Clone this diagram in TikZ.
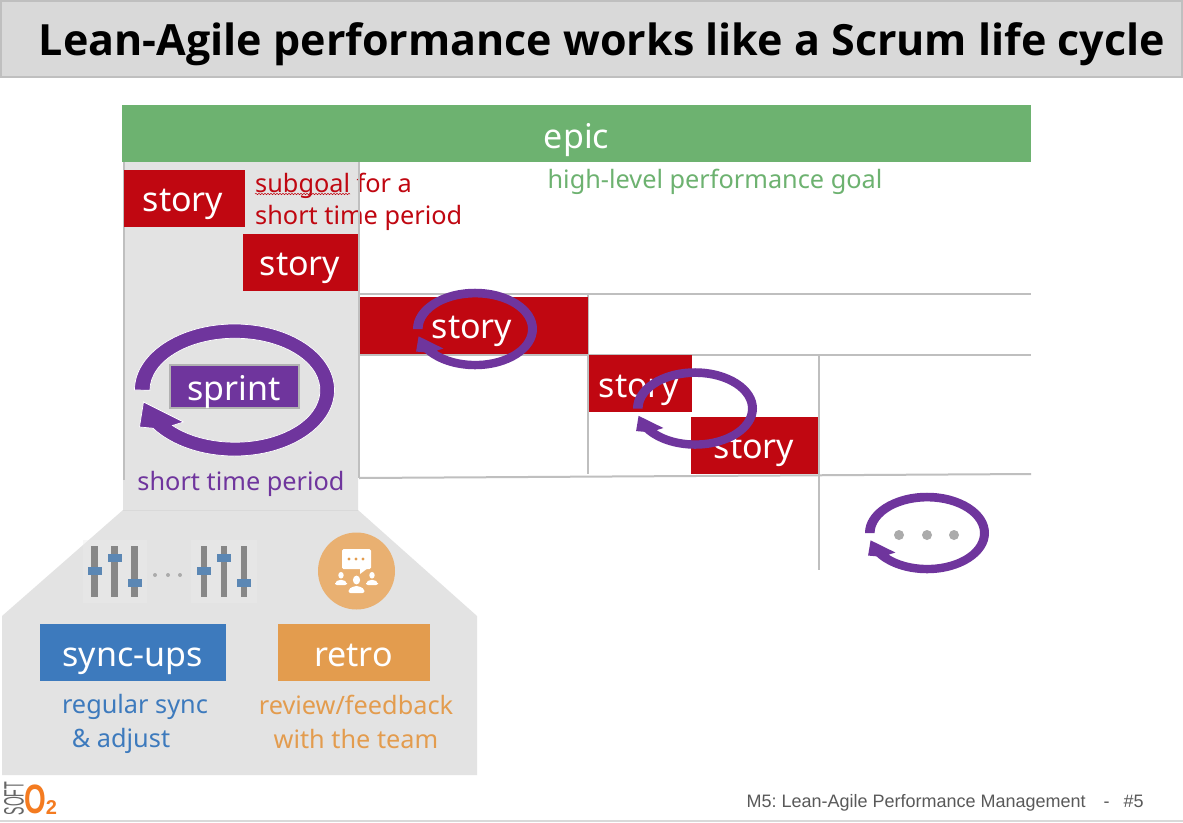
\documentclass[tikz,border=0pt]{standalone}
\usepackage{fontspec}
\usepackage{xcolor}
\usepackage{tikz}
\usetikzlibrary{decorations.pathmorphing}
\setmainfont{Noto Sans}
\newfontfamily\titlefont{Open Sans}
\newfontfamily\footerfont{Liberation Sans}

\definecolor{epicgreen}{HTML}{6DB270}
\definecolor{storyred}{HTML}{C00711}
\definecolor{sprintpurple}{HTML}{6F359D}
\definecolor{syncblue}{HTML}{3D7ABD}
\definecolor{retroorange}{HTML}{E39C4E}
\definecolor{panelgray}{HTML}{E3E3E3}
\definecolor{gridgray}{HTML}{BFBFBF}
\definecolor{handleblue}{HTML}{5B87B4}
\definecolor{logoorange}{HTML}{F47B20}

\tikzset{
    bar/.style={draw=none, minimum height=57pt, inner sep=0pt},
    story/.style={bar, fill=storyred},
    bartext/.style={inner sep=0pt, anchor=base, text=white, font=\fontsize{34}{34}\selectfont},
    label/.style={inner sep=0pt, anchor=base, font=\fontsize{25.3}{25.3}\selectfont},
    grid line/.style={draw=gridgray, line width=2pt},
    cyclearrow/.pic={
        \begin{scope}[y=1pt]
            \path[fill=sprintpurple, pic actions] (-100,0) arc[start angle=180, end angle=-144.6, x radius=100, y radius=66]
                -- (-95,-37) -- (-91,-12) -- (-51,-32)
                -- (-62,-35.5) arc[start angle=-137.3, end angle=180, x radius=85, y radius=52] -- cycle;
        \end{scope}
    },
    sliders/.pic={
        \foreach \xpos/\ypos in {-20/0, 0/-13, 20/12} {
            \fill[black!47] (\xpos-3.2,-25) rectangle (\xpos+3.2,26);
            \fill[handleblue] (\xpos-7,\ypos-4) rectangle (\xpos+7,\ypos+4);
        }
    },
    person/.pic={
        \fill[white] (0,-9) ellipse (3.6 and 4.4);
        \fill[white, rounded corners=2pt] (-8,4) -- (-8,0) -- (-2,-3) -- (2,-3) -- (8,0) -- (8,4) -- cycle;
    }
}

\begin{document}
\begin{tikzpicture}[x=1pt, y=-1pt]
    \frenchspacing
    \useasboundingbox (0,0) rectangle (1183,822);
    \fill[white] (0,0) rectangle (1183,822);

    % title
    \node[draw=gridgray, fill=black!15, line width=2pt, minimum width=1181pt, minimum height=76pt, inner sep=0pt] at (591.5,38.5) (titlebar) {};
    \node[inner sep=0pt, anchor=base, font=\titlefont\bfseries\fontsize{43}{43}\selectfont] at (602,55) (title) {Lean-Agile performance works like a Scrum life cycle};

    % gray panel
    \fill[panelgray] (123,162) -- (358,162) -- (358,510) -- (477,616) -- (477,775) -- (2,775) -- (2,616) -- (123,510) -- cycle;
    \draw[draw=black!15, line width=1pt] (123,510.5) -- (358,510.5);

    \node[bar, fill=epicgreen, minimum width=909pt] at (576.5,133.5) (epic) {};
    \node[bartext] at (576.5,148) (epictext) {epic};
    \node[label, text=epicgreen] at (715,188) (goal) {high-level performance goal};

    \node[label, text=storyred, anchor=base west] at (255,192) (subgoal) {subgoal for a};
    \node[label, text=storyred, anchor=base west] at (255,224) (subgoaltwo) {short time period};
    \draw[storyred, line width=.5pt, decorate, decoration={snake, amplitude=.7pt, segment length=3pt}] (255,194) -- (350,194);

    % grid
    \draw[grid line] (123.5,162) -- (123.5,480);
    \draw[grid line] (359,162) -- (359,478);
    \draw[grid line] (359,294) -- (1031,294);
    \draw[grid line] (359,355) -- (1031,355);
    \draw[grid line] (359,478) -- (1031,474);
    \draw[grid line] (588,294) -- (588,474);
    \draw[grid line] (819,355) -- (819,570);

    % stories
    \node[story, minimum width=121pt] at (184.5,198.5) (box1) {};
    \node[story, minimum width=115pt] at (300.5,262.5) (box2) {};
    \node[story, minimum width=228pt] at (474,325.5) (box3) {};
    \node[story, minimum width=103pt] at (640.5,383.5) (box4) {};
    \node[story, minimum width=127pt] at (754.5,445.5) (box5) {};
    \node[bartext] at (183,211) (story1) {story};
    \node[bartext] at (300,275) (story2) {story};
    \node[bartext] at (472,338) (story3) {story};
    \node[bartext] at (639,397) (story4) {story};
    \node[bartext] at (754,458) (story5) {story};

    % sprint
    \node[draw=black!30, fill=sprintpurple, line width=2pt, minimum width=129pt, minimum height=43pt, inner sep=0pt] at (234.5,386.5) (sprintbox) {};
    \node[bartext] at (234,400) (sprint) {sprint};
    \pic[draw=white, line width=.7pt] at (234.5,390) {cyclearrow};
    \node[label, text=sprintpurple] at (241,490) (period) {short time period};

    \pic[xscale=.62, yscale=.61] at (475,329) {cyclearrow};
    \pic[xscale=.62, yscale=.61] at (695,408.5) {cyclearrow};
    \pic[xscale=.62, yscale=.61] at (927,533) {cyclearrow};
    \foreach \xpos in {899,927,954}
        \fill[black!33] (\xpos,535) circle (5);

    % sync-ups
    \fill[black!8, opacity=.4] (83,540) rectangle (147,603);
    \fill[black!8, opacity=.4] (191,540) rectangle (257,603);
    \pic at (114.5,571) {sliders};
    \pic at (224,571) {sliders};
    \foreach \xpos in {155,168,180}
        \fill[black!33] (\xpos,575) circle (2);
    \node[bar, fill=syncblue, minimum width=186pt] at (133,652.5) (syncbox) {};
    \node[bartext] at (132.5,666) (sync) {sync-ups};
    \node[label, text=syncblue] at (135,713) (syncone) {regular sync};
    \node[label, text=syncblue] at (121,747) (synctwo) {\&~adjust};

    % retro
    \fill[retroorange!80!white] (356.5,571) circle (38.5);
    \fill[white, rounded corners=1.5pt] (342,549) rectangle (371,569);
    \fill[white] (360,568) -- (368,568) -- (360,574) -- cycle;
    \foreach \xpos in {349,356,363}
        \fill[retroorange] (\xpos,559) circle (1.6);
    \pic[scale=.75] at (341,582) {person};
    \pic[scale=.75] at (372,582) {person};
    \pic at (356.5,589) {person};
    \node[bar, fill=retroorange, minimum width=152pt] at (354,652.5) (retrobox) {};
    \node[bartext] at (353.5,666) (retro) {retro};
    \node[label, text=retroorange] at (356,714) (retroone) {review/feedback};
    \node[label, text=retroorange] at (356,748) (retrotwo) {with the team};

    % footer
    \node[inner sep=0pt, rotate=90, xscale=.45, text=black!60, font=\footerfont\fontsize{28}{28}\selectfont] at (14,798.5) (soft) {SOFT};
    \node[inner sep=0pt, text=logoorange, font=\footerfont\bfseries\fontsize{41}{41}\selectfont, xscale=.68] at (35.5,799) (oxygen) {O};
    \node[inner sep=0pt, text=logoorange, font=\footerfont\bfseries\fontsize{20}{20}\selectfont] at (51.5,807.5) (two) {2};
    \node[inner sep=0pt, anchor=base east, text=black!65, font=\footerfont\fontsize{18}{18}\selectfont] at (1144,807) (footer) {M5: Lean-Agile Performance Management\hspace{18pt}-\hspace{14pt}\#5};
    \draw[draw=black!15, line width=1.5pt] (0,821) -- (1183,821);
\end{tikzpicture}
\end{document}
